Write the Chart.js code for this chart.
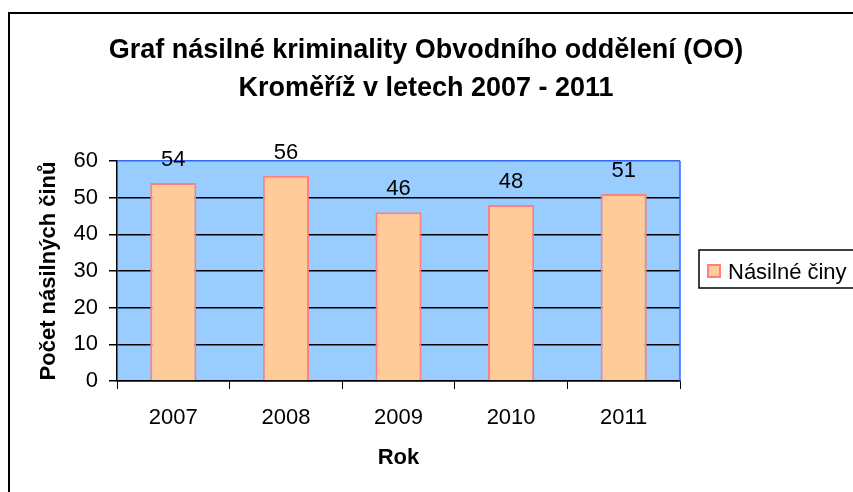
<!DOCTYPE html>
<html>
<head>
<meta charset="utf-8">
<script src="https://cdn.jsdelivr.net/npm/chart.js@4"></script>
<style>
  html, body { margin: 0; padding: 0; background: #fff; overflow: hidden; }
  #wrap { width: 853px; height: 492px; }
</style>
</head>
<body>
<div id="wrap"><canvas id="myChart" width="853" height="492"></canvas></div>
<script>
"use strict";
var years = ["2007", "2008", "2009", "2010", "2011"];
var counts = [54, 56, 46, 48, 51];
var seriesName = "Násilné činy";
var chartTitle = ["Graf násilné kriminality Obvodního oddělení (OO)", "Kroměříž v letech 2007 - 2011"];
var yTitle = "Počet násilných činů";
var xTitle = "Rok";
var yTicks = [0, 10, 20, 30, 40, 50, 60];

var FONT = "'Liberation Sans', Arial, sans-serif";

/* background of plot, frame, title, data labels and legend */
var extras = {
  id: "extras",
  beforeDraw: function(chart) {
    var ctx = chart.ctx, a = chart.chartArea;
    ctx.save();
    ctx.fillStyle = "#fff";
    ctx.fillRect(0, 0, chart.width, chart.height);
    ctx.fillStyle = "#99CCFF";
    ctx.fillRect(a.left, a.top, a.right - a.left, a.bottom - a.top);
    // outer frame
    ctx.strokeStyle = "#000";
    ctx.lineWidth = 2;
    ctx.beginPath();
    ctx.moveTo(9, chart.height + 5);
    ctx.lineTo(9, 13);
    ctx.lineTo(chart.width + 5, 13);
    ctx.stroke();
    // title, centred on the whole picture
    ctx.fillStyle = "#000";
    ctx.font = "bold 27px " + FONT;
    ctx.textAlign = "center";
    ctx.textBaseline = "alphabetic";
    ctx.fillText(chartTitle[0], 426, 58);
    ctx.fillText(chartTitle[1], 426, 96);
    ctx.restore();
  },
  afterDatasetsDraw: function(chart) {
    var ctx = chart.ctx, a = chart.chartArea;
    ctx.save();
    // right border of plot
    ctx.strokeStyle = "#3366FF";
    ctx.lineWidth = 1.5;
    ctx.beginPath();
    ctx.moveTo(a.right, a.top);
    ctx.lineTo(a.right, a.bottom);
    ctx.stroke();

    // values above bars
    ctx.fillStyle = "#000";
    ctx.font = "22px " + FONT;
    ctx.textAlign = "center";
    ctx.textBaseline = "alphabetic";
    chart.getDatasetMeta(0).data.forEach(function(bar, i) {
      ctx.fillText(String(counts[i]), bar.x, bar.y - 17);
    });

    // legend
    var ds = chart.data.datasets[0];
    ctx.strokeStyle = "#000";
    ctx.lineWidth = 1.5;
    ctx.strokeRect(699, 250, 160, 38);
    ctx.fillStyle = ds.backgroundColor;
    ctx.fillRect(708, 265, 12, 12);
    ctx.strokeStyle = ds.borderColor;
    ctx.lineWidth = 2;
    ctx.strokeRect(708, 265, 12, 12);
    ctx.fillStyle = "#000";
    ctx.textAlign = "left";
    ctx.fillText(ds.label, 728, 279);
    ctx.restore();
  }
};

var ctx = document.getElementById("myChart").getContext("2d");
var chart = new Chart(ctx, {
  type: "bar",
  data: {
    labels: years,
    datasets: [{
      label: seriesName,
      data: counts,
      backgroundColor: "#FFCC99",
      borderColor: "#FF8080",
      borderWidth: 2,
      barPercentage: 0.41,
      categoryPercentage: 1
    }]
  },
  options: {
    responsive: false,
    animation: false,
    layout: { padding: { left: 0, right: 173, top: 161, bottom: 0 } },
    plugins: {
      legend: { display: false },
      tooltip: { enabled: false },
      title: { display: false }
    },
    scales: {
      x: {
        grid: { display: true, drawOnChartArea: false, drawTicks: true, tickLength: 8, color: "#000", offset: true },
        border: { display: true, color: "#000", width: 1.5 },
        ticks: { color: "#000", font: { family: FONT, size: 22 }, padding: 16 },
        title: {
          display: true, text: xTitle, color: "#000",
          font: { family: FONT, size: 22, weight: "bold" },
          padding: { top: 0, bottom: 21 }
        },
        afterFit: function(scale) { scale.height = 111; }
      },
      y: {
        min: 0,
        max: 60,
        afterBuildTicks: function(scale) {
          scale.ticks = yTicks.map(function(v) { return { value: v }; });
        },
        grid: {
          color: function(c) { return c.tick && c.tick.value === 60 ? "#3366FF" : "#000"; },
          tickColor: "#000",
          lineWidth: 1.5,
          tickLength: 8
        },
        border: { display: true, color: "#000", width: 1.5 },
        ticks: { color: "#000", font: { family: FONT, size: 22 }, padding: 11 },
        title: {
          display: true, text: yTitle, color: "#000",
          font: { family: FONT, size: 22, weight: "bold" },
          padding: { top: 36, bottom: 0 }
        },
        afterFit: function(scale) { scale.width = 117; }
      }
    }
  },
  plugins: [extras]
});
</script>
</body>
</html>
